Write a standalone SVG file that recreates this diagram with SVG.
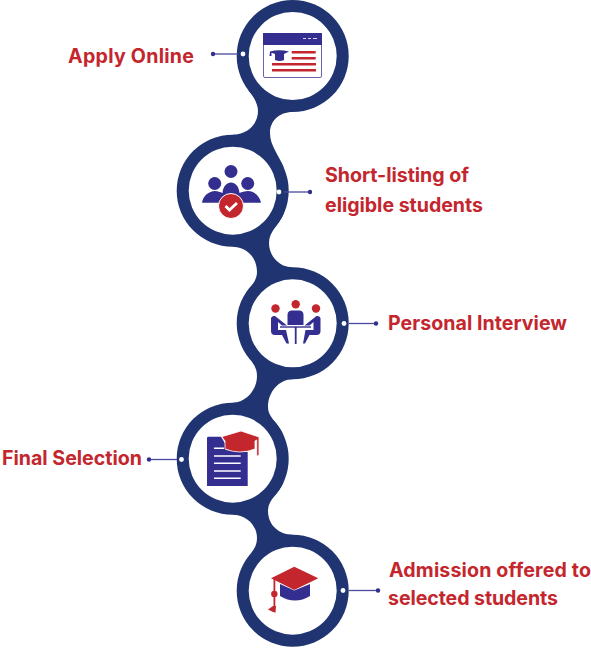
<svg xmlns="http://www.w3.org/2000/svg" width="591" height="654" viewBox="0 0 591 654">
<style>
.ring{fill:#1f3471}
.hole{fill:#fff}
.line{stroke:#4a4a9e;stroke-width:1.3;fill:none}
.end{fill:#2f2f8f}
.dot{fill:#fff}
.lbl{font-family:"Inter","Liberation Sans",sans-serif;font-weight:700;font-size:19.6px;fill:#c4262e}
.b{fill:#332e8f}
.r{fill:#c4262e}
</style>
<rect width="591" height="654" fill="#fff"/>
<g id="connectors">
<path class="ring" d="M248 90C254 97 258 104 258 111C258 125 246 134.800 232.700 134.800L284 168C279 155 270 146 270 133C270 121 279 112 292.700 112Z"/>
<path class="ring" d="M284 213C279 225 269 231 269 243C269 256 279 267.300 292.700 267.300L252 285C255 281 257 277 257 272C257 257 246 246.700 232.700 246.700Z"/>
<path class="ring" d="M252 362C255 366 257 370 257 376C257 390 246 402.700 232.700 402.700L283.700 435.700C279 423 268 418 268 407C268 392 279 379.300 292.700 379.300Z"/>
<path class="ring" d="M283.700 481.700C279 494 268 499 268 511C268 525 279 534.700 292.700 534.700L251.300 553C255 548 257 544 257 538C257 525 246 514.700 232.700 514.700Z"/>
</g>
<g id="step1">
<circle class="ring" cx="292.700" cy="56" r="56"/><circle class="hole" cx="292.700" cy="56" r="44"/>
<circle class="dot" cx="243" cy="54" r="2.400"/>
<path class="line" d="M213 54H238"/><circle class="end" cx="213" cy="54" r="2.200"/>
<rect x="263.500" y="33.500" width="58" height="44" rx="1.500" fill="#fff" stroke="#6a64ad" stroke-width="1"/>
<rect class="b" x="263" y="33" width="59" height="12"/>
<path d="M303 38.500h3M308 38.500h3M313 38.500h4" stroke="#d8d6ee" stroke-width="1"/>
<path class="b" d="M270 51.500Q279 49 289 51.500L284 54V60Q280 62 275 60V54L271.500 52.700V56H269.500Z"/>
<g class="r"><rect x="291.700" y="51" width="24" height="2.500"/><rect x="291.700" y="57" width="24" height="2.500"/><rect x="272" y="63" width="44" height="2.500"/><rect x="272" y="69" width="44" height="2.500"/></g>
<text class="lbl" x="68" y="63" textLength="126">Apply Online</text>
</g>
<g id="step2">
<circle class="ring" cx="232.700" cy="190.700" r="56"/><circle class="hole" cx="232.700" cy="190.700" r="44"/>
<circle class="dot" cx="279" cy="192" r="2.400"/>
<path class="line" d="M284 192H310"/><circle class="end" cx="310" cy="192" r="2.200"/>
<circle class="b" cx="231" cy="171.500" r="6.500"/>
<circle class="b" cx="214.700" cy="183.500" r="6.500"/><circle class="b" cx="247.700" cy="183.500" r="6.500"/>
<path class="b" d="M202 202.700C203 196 209 191 215 191C218 191 220 192 222.500 193C223 186 227 182.500 231 182.500C235 182.500 239 186 239.500 193C242 192 245 191 248 191C254 191 260 196 261 202.700Z"/>
<circle class="r" cx="231" cy="206" r="12.500" stroke="#fff" stroke-width="1"/>
<path d="M225.500 206L229.500 210L237 203" stroke="#fff" stroke-width="2.800" fill="none"/>
<text class="lbl" x="325" y="182" textLength="144">Short-listing of</text>
<text class="lbl" x="325" y="212" textLength="158">eligible students</text>
</g>
<g id="step3">
<circle class="ring" cx="292.700" cy="323.300" r="56"/><circle class="hole" cx="292.700" cy="323.300" r="44"/>
<circle class="dot" cx="344" cy="323.500" r="2.400"/>
<path class="line" d="M349 323.500H376"/><circle class="end" cx="376" cy="323.500" r="2.200"/>
<circle class="r" cx="275.500" cy="308.500" r="4.200"/><circle class="r" cx="295.700" cy="304.300" r="4.200"/><circle class="r" cx="316" cy="308.500" r="4.200"/>
<path class="b" d="M287.500 315Q287.500 310.500 292 310.500H299Q303.500 310.500 303.500 315V325H287.500Z"/>
<path class="b" d="M271 318Q272 315.500 275 316L287 325.500H282L278 322V330H286L289 343.500H286.500L282 335H275Q271 335 271 331Z"/>
<path class="b" d="M320.500 318Q319.500 315.500 316.500 316L304.500 325.500H309.500L313.500 322V330H305.500L303 343.500H305L309.500 335H316.500Q320.500 335 320.500 331Z"/>
<path d="M280 327H311" stroke="#332e8f" stroke-width="1.400"/><rect class="b" x="294.800" y="327" width="1.800" height="17"/>
<text class="lbl" x="388" y="330" textLength="179">Personal Interview</text>
</g>
<g id="step4">
<circle class="ring" cx="232.700" cy="458.700" r="56"/><circle class="hole" cx="232.700" cy="458.700" r="44"/>
<circle class="dot" cx="181.500" cy="459.500" r="2.400"/>
<path class="line" d="M149 459.500H177"/><circle class="end" cx="149" cy="459.500" r="2.200"/>
<path class="b" d="M207 438Q207 436.700 208.500 436.700H221L226 445V450L247.700 452V486H207Z"/>
<path d="M214 448.300H224M214 456H240.700M214 463.300H240.700M214 471H240.700M214 478.300H240.700" stroke="#fff" stroke-width="1.500" fill="none"/>
<path class="r" d="M221.700 436.700L241 431L259 437V455.700H256.700V440L255 441V449Q240 455 225 449V441Z" stroke="#fff" stroke-width=".8"/>
<text class="lbl" x="2" y="465" textLength="140">Final Selection</text>
</g>
<g id="step5">
<circle class="ring" cx="292.700" cy="590.700" r="56"/><circle class="hole" cx="292.700" cy="590.700" r="44"/>
<circle class="dot" cx="343" cy="590.500" r="2.400"/>
<path class="line" d="M349 590.500H378"/><circle class="end" cx="378" cy="590.500" r="2.200"/>
<path class="b" d="M280 584L294.300 590.500L310 584V596Q295 605 280 596Z"/>
<path class="r" d="M271 578.300L294.300 566.700L318.300 578.300L294.300 590Z"/>
<rect class="r" x="273.500" y="578" width="1.800" height="31"/>
<circle class="r" cx="274.300" cy="594" r="3.200"/>
<path class="r" d="M273 606H276L275.500 612.700L272 611.500L268 609.500Z"/>
<text class="lbl" x="389" y="577" textLength="202">Admission offered to</text>
<text class="lbl" x="388" y="605" textLength="170">selected students</text>
</g>
</svg>
